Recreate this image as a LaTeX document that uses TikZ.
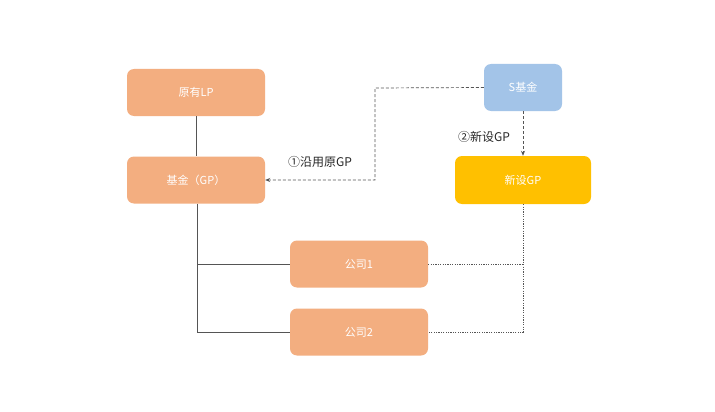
\documentclass[tikz,border=0pt]{standalone}
\usepackage{fontspec}
\newfontfamily\cjk{Noto Sans CJK SC}
\usetikzlibrary{arrows.meta}
\definecolor{orangebox}{HTML}{F3AE80}
\definecolor{bluebox}{HTML}{A3C4E8}
\definecolor{yellowbox}{HTML}{FFC000}
\definecolor{lineg}{HTML}{555555}
\begin{document}
\begin{tikzpicture}[x=1pt,y=-1pt,
  box/.style={rounded corners=7pt, minimum width=138pt, minimum height=47pt, inner sep=0pt, text=white, font=\cjk\fontsize{11}{13}\selectfont},
  solidline/.style={draw=lineg, line width=0.8pt},
  dashline/.style={draw=lineg, line width=0.7pt, dash pattern=on 3pt off 2pt},
  dotline/.style={draw=lineg, line width=0.7pt, dash pattern=on 1.2pt off 1.2pt},
  lbl/.style={font=\cjk\fontsize{12}{14}\selectfont, text=black!85}]
\useasboundingbox (0,0) rectangle (715,412);
\fill[white] (0,0) rectangle (715,412);
\node[box, fill=orangebox] (lp) at (196,92.5) {原有LP};
\node[box, fill=orangebox] (fund) at (196,180) {基金（GP）};
\node[box, fill=bluebox, minimum width=78pt] (s) at (523,87.5) {S基金};
\node[box, fill=yellowbox, minimum width=136pt, minimum height=48pt] (ngp) at (523,180) {新设GP};
\node[box, fill=orangebox] (c1) at (359,264) {公司1};
\node[box, fill=orangebox] (c2) at (359,332) {公司2};
\coordinate (a) at (375,88);
\coordinate (b) at (375,180);
\coordinate (j1) at (197,264);
\coordinate (j2) at (197,332);
\coordinate (k1) at (523,264);
\coordinate (k2) at (523,332);
\draw[solidline] (lp) -- (fund);
\draw[solidline] (fund.south -| j1) -- (j2) -- (c2.west);
\draw[solidline] (j1) -- (c1.west);
\draw[dashline, -{Stealth[length=5pt,width=4pt]}] (s.west) -- (a) -- (b) -- (fund.east);
\draw[dashline, -{Stealth[length=5pt,width=4pt]}] (s.south) -- (ngp.north);
\draw[dotline] (ngp.south) -- (k2) -- (c2.east);
\draw[dotline] (c1.east) -- (k1);
\node[lbl] (l1) at (320,162) {①沿用原GP};
\node[lbl] (l2) at (484,137) {②新设GP};
\end{tikzpicture}
\end{document}
